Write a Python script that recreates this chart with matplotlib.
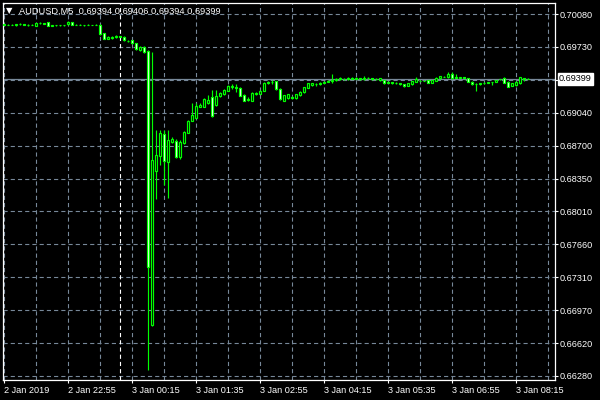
import matplotlib
matplotlib.use('Agg')
import matplotlib.pyplot as plt
import numpy as np
import pandas as pd

plt.rcParams['font.family'] = ['Liberation Sans', 'DejaVu Sans']
plt.rcParams['lines.scale_dashes'] = False

symbol = 'AUDUSD,M5'
start_time = '2019-01-02 21:35'

opens = [.69972, .69968, .69970, .69966, .69972, .69975, .69966, .69970, .69957, .69985,
         .69982, .69993, .69957, .69960, .69962, .69960, .69975, .69995, .69970, .69966,
         .69964, .69966, .69964, .69966, .69968, .69877, .69821, .69828, .69835, .69845,
         .69842, .69800, .69807, .69772, .69702, .69730, .69691, .66811, .68428, .68589,
         .68825, .68526, .68739, .68743, .68575, .68729, .68834, .68960, .68993, .69109,
         .69109, .69142, .69209, .69124, .69219, .69240, .69277, .69310, .69313, .69300,
         .69230, .69177, .69172, .69245, .69242, .69277, .69356, .69369, .69376, .69298,
         .69172, .69195, .69209, .69195, .69230, .69258, .69306, .69332, .69345, .69345,
         .69361, .69371, .69380, .69387, .69394, .69403, .69401, .69405, .69403, .69405,
         .69398, .69405, .69405, .69401, .69387, .69387, .69361, .69366, .69359, .69352,
         .69342, .69324, .69342, .69369, .69382, .69380, .69387, .69359, .69380, .69405,
         .69422, .69415, .69450, .69415, .69413, .69415, .69405, .69369, .69345, .69347,
         .69352, .69359, .69363, .69369, .69394, .69411, .69369, .69324, .69334, .69352,
         .69405, .69394]
highs = [.69978, .69975, .69980, .69974, .69985, .69980, .69976, .69978, .69990, .69992,
         .69990, .69998, .69966, .69968, .69968, .69970, .70003, .70000, .69978, .69972,
         .69970, .69972, .69970, .69975, .69972, .69885, .69850, .69848, .69855, .69852,
         .69848, .69806, .69812, .69776, .69740, .69740, .69700, .69681, .68862, .68862,
         .68862, .68862, .68789, .68768, .68757, .68852, .68967, .69149, .69149, .69149,
         .69198, .69230, .69282, .69282, .69261, .69292, .69340, .69345, .69345, .69313,
         .69240, .69209, .69261, .69266, .69282, .69366, .69382, .69387, .69382, .69303,
         .69235, .69245, .69219, .69240, .69272, .69319, .69361, .69361, .69361, .69366,
         .69382, .69392, .69450, .69408, .69418, .69413, .69418, .69415, .69418, .69412,
         .69429, .69415, .69413, .69410, .69413, .69392, .69376, .69371, .69366, .69356,
         .69350, .69356, .69380, .69422, .69392, .69390, .69392, .69390, .69415, .69434,
         .69432, .69474, .69474, .69450, .69422, .69422, .69411, .69373, .69352, .69359,
         .69366, .69369, .69371, .69392, .69403, .69422, .69373, .69356, .69373, .69420,
         .69411, .69406]
lows = [.69962, .69960, .69964, .69958, .69965, .69962, .69958, .69962, .69952, .69978,
        .69975, .69952, .69950, .69952, .69955, .69955, .69970, .69965, .69962, .69960,
        .69958, .69960, .69960, .69960, .69865, .69815, .69815, .69822, .69830, .69836,
        .69798, .69790, .69765, .69700, .69696, .69672, .66347, .66804, .68134, .68494,
        .68285, .68145, .68726, .68568, .68554, .68715, .68831, .68957, .68988, .69104,
        .69104, .69135, .68999, .69114, .69209, .69230, .69272, .69298, .69261, .69219,
        .69167, .69167, .69167, .69230, .69237, .69272, .69350, .69345, .69287, .69177,
        .69167, .69193, .69193, .69188, .69224, .69256, .69303, .69329, .69329, .69332,
        .69356, .69366, .69359, .69382, .69387, .69392, .69392, .69395, .69395, .69390,
        .69392, .69395, .69392, .69390, .69382, .69348, .69352, .69350, .69345, .69334,
        .69313, .69320, .69338, .69366, .69374, .69374, .69355, .69355, .69376, .69401,
        .69415, .69411, .69401, .69405, .69405, .69405, .69366, .69340, .69275, .69340,
        .69345, .69352, .69332, .69366, .69387, .69355, .69313, .69320, .69329, .69348,
        .69376, .69394]
closes = [.69968, .69970, .69966, .69972, .69975, .69966, .69970, .69968, .69985, .69982,
          .69980, .69957, .69960, .69962, .69960, .69962, .69999, .69970, .69966, .69964,
          .69966, .69964, .69966, .69968, .69870, .69821, .69842, .69842, .69849, .69842,
          .69804, .69797, .69772, .69709, .69733, .69681, .67427, .68547, .68600, .68831,
          .68537, .68757, .68768, .68575, .68736, .68844, .68960, .69020, .69114, .69125,
          .69184, .69182, .69009, .69219, .69247, .69282, .69329, .69324, .69308, .69222,
          .69172, .69188, .69250, .69255, .69271, .69356, .69371, .69371, .69293, .69184,
          .69230, .69240, .69203, .69237, .69264, .69310, .69352, .69352, .69342, .69352,
          .69369, .69380, .69387, .69394, .69405, .69401, .69405, .69403, .69405, .69398,
          .69405, .69405, .69401, .69398, .69405, .69352, .69369, .69359, .69352, .69342,
          .69327, .69352, .69376, .69394, .69380, .69382, .69359, .69387, .69411, .69429,
          .69424, .69450, .69405, .69413, .69415, .69413, .69369, .69345, .69343, .69352,
          .69359, .69363, .69366, .69387, .69397, .69359, .69317, .69352, .69369, .69415,
          .69403, .69399]

price_ticks = [0.70080, 0.69730, 0.69390, 0.69040, 0.68700, 0.68350,
               0.68010, 0.67660, 0.67310, 0.66970, 0.66620, 0.66280]
price_labels = ['0.70080', '0.69730', '', '0.69040', '0.68700', '0.68350',
                '0.68010', '0.67660', '0.67310', '0.66970', '0.66620', '0.66280']

grid_col = '#778899'
lime = '#00ff00'
dash = (0, (3, 2.2))

n = len(opens)
x = np.arange(n)
times = pd.date_range(start_time, periods=n, freq='5min')
last = closes[-1]

fig = plt.figure(figsize=(6, 4), dpi=100, facecolor='black')
ax = fig.add_axes([2.5 / 600, 20 / 400, 552 / 600, 377 / 400], facecolor='black')

# grid
tick_pos = np.linspace(price_ticks[0], price_ticks[-1], len(price_ticks))
for p in tick_pos:
    ax.axhline(p, color=grid_col, lw=0.8, ls=dash, zorder=0)
for i in range(0, 138, 8):
    ax.axvline(i, color=grid_col, lw=0.8, ls=dash, zorder=0)
# day separator
day_idx = int(np.where((times.hour == 0) & (times.minute == 0))[0][0])
ax.axvline(day_idx, color='white', lw=0.8, ls=dash, zorder=1)

# current price line
ax.axhline(last, color=grid_col, lw=0.9, zorder=1)

o = np.array(opens)
c = np.array(closes)
ax.vlines(x, lows, highs, color=lime, lw=0.85, zorder=2)
fill = np.where(c >= o, 'black', 'white')
ax.bar(x, np.abs(c - o), bottom=np.minimum(o, c), width=0.5, color=fill,
       edgecolor=lime, linewidth=0.85, zorder=3)

ax.set_xlim(-0.25, 137.75)
ax.set_ylim(0.66238, 0.70196)

ax.yaxis.tick_right()
ax.set_yticks(tick_pos)
ax.set_yticklabels(price_labels)
xt = list(range(0, n, 16))
xl = []
for i in xt:
    t = times[i]
    if i == 0:
        xl.append(f'{t.day} {t:%b %Y}')
    else:
        xl.append(f'{t.day} {t:%b %H:%M}')
ax.set_xticks(xt)
ax.set_xticklabels(xl)
for lab in ax.get_xticklabels():
    lab.set_horizontalalignment('left')
ax.tick_params(colors='white', labelsize=6.6, length=2.5, width=0.8, pad=1.5)
ax.tick_params(axis='x', pad=2)
for s in ax.spines.values():
    s.set_color('white')
    s.set_linewidth(0.9)

# current price box
ax.text(1.008, last, f'{last:.5f}', transform=ax.get_yaxis_transform(),
        color='black', fontsize=6.6, va='center', ha='left',
        bbox=dict(boxstyle='square,pad=0.15', fc='white', ec='white'))

# header
fig.text(9 / 600, 1 - 10.5 / 400, '▼', color='white', fontsize=6,
         family='DejaVu Sans', ha='center', va='center')
fig.text(19 / 600, 1 - 11 / 400,
         f'{symbol}  {opens[-1]:.5f} {highs[-1]:.5f} {lows[-1]:.5f} {closes[-1]:.5f}',
         color='white', fontsize=6.7, ha='left', va='center')

fig.savefig('out.png', dpi=100, facecolor='black')
